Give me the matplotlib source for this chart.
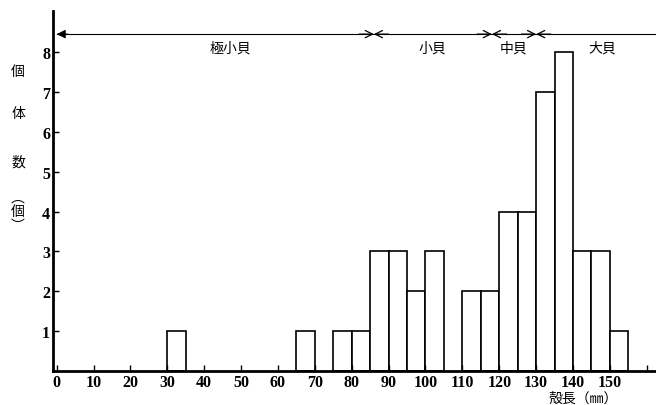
import matplotlib
matplotlib.use("Agg")
import matplotlib.pyplot as plt

# shell length classes (left edge of 5 mm bins) and counts
bin_left = [30, 65, 75, 80, 85, 90, 95, 100, 110, 115, 120, 125, 130, 135, 140, 145, 150]
counts = [1, 1, 1, 1, 3, 3, 2, 3, 2, 2, 4, 4, 7, 8, 3, 3, 1]
bin_width = 5

x_ticks = list(range(0, 170, 10))
x_labels = [str(t) for t in range(0, 160, 10)] + [""]
y_ticks = list(range(1, 9))

# size-class ranges along the top arrow line
class_names = ["極小貝", "小貝", "中貝", "大貝"]
class_bounds = [0, 86, 118, 130, 163]
class_label_x = [47, 102, 124, 148]

CJK = ["Noto Sans CJK JP", "DejaVu Sans"]
NUM = "Liberation Serif"

fig = plt.figure(figsize=(6.56, 4.06), dpi=100)
fig.patch.set_facecolor("white")
ax = fig.add_axes([53 / 656, 1 - 372 / 406, 603 / 656, 360 / 406])

ax.bar(bin_left, counts, width=bin_width, align="edge",
       facecolor="white", edgecolor="black", linewidth=1.2)

ax.set_xlim(-1, 162.5)
ax.set_ylim(0, 9.03)
for s in ["top", "right"]:
    ax.spines[s].set_visible(False)
for s in ["left", "bottom"]:
    ax.spines[s].set_linewidth(2)

ax.set_xticks(x_ticks)
ax.set_xticklabels(x_labels, fontfamily=NUM, fontsize=11.5, fontweight="bold")
ax.set_yticks(y_ticks)
ax.set_yticklabels([str(t) for t in y_ticks], fontfamily=NUM, fontsize=11.5, fontweight="bold")
ax.tick_params(axis="both", direction="in", length=4, width=1, pad=2)

# size-class arrow line
ya = 8.45
ax.plot([class_bounds[0], class_bounds[-1]], [ya, ya], color="black", lw=0.8, clip_on=False)
ax.annotate("", xy=(class_bounds[0], ya), xytext=(class_bounds[0] + 3, ya),
            arrowprops=dict(arrowstyle="-|>", color="black", lw=0.8,
                            mutation_scale=13, shrinkA=0, shrinkB=0))
for b in class_bounds[1:-1]:
    for d in (-4, 4):
        ax.annotate("", xy=(b, ya), xytext=(b + d, ya),
                    arrowprops=dict(arrowstyle="->", color="black", lw=0.9,
                                    mutation_scale=13, shrinkA=0, shrinkB=0))
for name, xl in zip(class_names, class_label_x):
    ax.text(xl, ya - 0.15, name, family=CJK, fontsize=10, ha="center", va="top")

# vertical y label
for ch, yp in [("個", 72), ("体", 114), ("数", 163), ("︵", 198), ("個", 212), ("︶", 226)]:
    fig.text(18 / 656, 1 - yp / 406, ch, family=CJK, fontsize=10, ha="center", va="center")

fig.text(583 / 656, 1 - 399 / 406, "殻長（㎜）", family=CJK, fontsize=10, ha="center", va="center")

fig.savefig("out.png", dpi=100)
